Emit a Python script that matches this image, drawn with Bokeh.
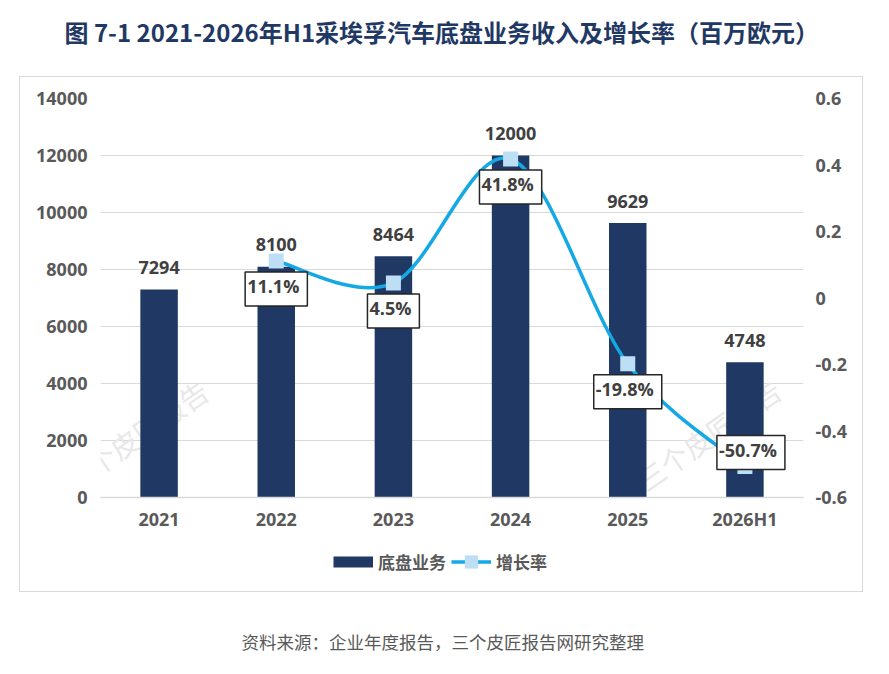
from bokeh.plotting import figure
from bokeh.layouts import column
from bokeh.models import (Range1d, LinearAxis, FixedTicker, Label, ColumnDataSource,
                          Legend, LegendItem)
from bokeh.core.properties import value
from bokeh.embed import file_html
from bokeh.resources import INLINE

# ---------------- data ----------------
categories = ["2021", "2022", "2023", "2024", "2025", "2026H1"]
revenue = [7294, 8100, 8464, 12000, 9629, 4748]
growth_years = ["2022", "2023", "2024", "2025", "2026H1"]
growth_pct = [11.1, 4.5, 41.8, -19.8, -50.7]
left_ticks = [0, 2000, 4000, 6000, 8000, 10000, 12000, 14000]
right_ticks = [-0.6, -0.4, -0.2, 0, 0.2, 0.4, 0.6]
right_tick_labels = ["-0.6", "-0.4", "-0.2", "0", "0.2", "0.4", "0.6"]
series_names = ["底盘业务", "增长率"]
title_text = "图  7-1 2021-2026年H1采埃孚汽车底盘业务收入及增长率（百万欧元）"
source_text = "资料来源：企业年度报告，三个皮匠报告网研究整理"
watermark_text = "三个皮匠报告"

# ---------------- styles ----------------
BAR = "#203864"
LINE = "#14A9E4"
MARK = "#BDDFF6"
GRID = "#D9D9D9"
AXIS_TXT = "#595959"
LBL_TXT = "#404040"
NUM_FONT = "Open Sans"
CJK_FONT = "Noto Sans CJK SC"

W = 885


def blank(width, height):
    f = figure(width=width, height=height, output_backend="svg", toolbar_location=None,
               title=None, x_range=Range1d(0, width), y_range=Range1d(height, 0), min_border=0)
    f.axis.visible = False
    f.grid.visible = False
    f.outline_line_color = None
    return f


title_fig = blank(W, 76)
title_fig.text(x=[64], y=[31], text=[title_text], text_align="left", text_baseline="middle",
               text_font=value(CJK_FONT), text_font_style="bold", text_font_size="24px",
               text_color="#1F3864")

source_fig = blank(W, 78)
source_fig.text(x=[241], y=[49], text=[source_text], text_align="left", text_baseline="middle",
                text_font=value(CJK_FONT), text_font_size="17.5px", text_color=AXIS_TXT)


def style_axis(ax, standoff):
    ax.major_tick_line_color = None
    ax.minor_tick_line_color = None
    ax.major_tick_out = 0
    ax.major_tick_in = 0
    ax.minor_tick_out = 0
    ax.minor_tick_in = 0
    ax.major_label_standoff = standoff
    ax.major_label_text_font = NUM_FONT
    ax.major_label_text_font_style = "bold"
    ax.major_label_text_font_size = "18px"
    ax.major_label_text_color = AXIS_TXT


# ---------------- main chart (inside the grey box) ----------------
PW, PH = 842, 470
p = figure(width=PW, height=PH, output_backend="svg", toolbar_location=None, title=None,
           x_range=Range1d(-0.5, len(categories) - 0.5),
           y_range=Range1d(left_ticks[0], left_ticks[-1]),
           min_border_left=80, min_border_right=59, min_border_top=21, min_border_bottom=50)
p.outline_line_color = None
p.xgrid.visible = False
p.ygrid.grid_line_color = GRID
p.ygrid.grid_line_width = 1
p.ygrid.ticker = FixedTicker(ticks=left_ticks)

idx = list(range(len(categories)))

ya = p.yaxis[0]
ya.ticker = FixedTicker(ticks=left_ticks)
ya.axis_line_color = None
style_axis(ya, 13)

xa = p.xaxis[0]
xa.ticker = FixedTicker(ticks=idx)
xa.major_label_overrides = {i: c for i, c in zip(idx, categories)}
xa.axis_line_color = GRID
xa.axis_line_width = 1.5
style_axis(xa, 9)

p.extra_y_ranges = {"rate": Range1d(right_ticks[0], right_ticks[-1])}
ra = LinearAxis(y_range_name="rate", ticker=FixedTicker(ticks=right_ticks),
                major_label_overrides={t: s for t, s in zip(right_ticks, right_tick_labels)})
ra.axis_line_color = None
style_axis(ra, 12)
p.add_layout(ra, "right")

# watermark (very faint)
for wx, wy in [(-0.2, 2170), (4.69, 2205)]:
    p.add_layout(Label(x=wx, y=wy, text=watermark_text, angle=35, angle_units="deg",
                       text_align="center", text_baseline="middle", text_font=CJK_FONT,
                       text_font_size="28px", text_color="#E8E8E8", level="underlay"))

# bars
bar_src = ColumnDataSource(dict(x=idx, top=revenue))
bars = p.vbar(x="x", top="top", width=0.32, source=bar_src, fill_color=BAR, line_color=None)
for xi, v in zip(idx, revenue):
    p.add_layout(Label(x=xi, y=v, text=str(v), y_offset=22, text_align="center",
                       text_baseline="middle", text_font=NUM_FONT, text_font_style="bold",
                       text_font_size="18px", text_color=LBL_TXT))

# smoothed growth line (Catmull-Rom -> cubic Bezier, built from the data points)
gx = [categories.index(c) for c in growth_years]
gy = [v / 100.0 for v in growth_pct]
pts = list(zip(gx, gy))
n = len(pts)
seg = dict(x0=[], y0=[], x1=[], y1=[], cx0=[], cy0=[], cx1=[], cy1=[])
for i in range(n - 1):
    pa = pts[i - 1] if i > 0 else pts[i]
    pb = pts[i]
    pc = pts[i + 1]
    pd = pts[i + 2] if i + 2 < n else pts[i + 1]
    seg["x0"].append(pb[0]); seg["y0"].append(pb[1])
    seg["x1"].append(pc[0]); seg["y1"].append(pc[1])
    seg["cx0"].append(pb[0] + (pc[0] - pa[0]) / 6.0)
    seg["cy0"].append(pb[1] + (pc[1] - pa[1]) / 6.0)
    seg["cx1"].append(pc[0] - (pd[0] - pb[0]) / 6.0)
    seg["cy1"].append(pc[1] - (pd[1] - pb[1]) / 6.0)
curve = p.bezier(x0="x0", y0="y0", x1="x1", y1="y1", cx0="cx0", cy0="cy0", cx1="cx1", cy1="cy1",
                 source=ColumnDataSource(seg), line_color=LINE, line_width=3.5, y_range_name="rate")
marks = p.scatter(x=gx, y=gy, marker="square", size=15, fill_color=MARK, line_color=None,
                  y_range_name="rate")

for k, (xi, yv, pv) in enumerate(zip(gx, gy, growth_pct)):
    last = (k == n - 1)
    p.add_layout(Label(x=xi, y=yv, y_range_name="rate", text=f"{pv:.1f}%",
                       x_offset=6 if last else 0, y_offset=14 if last else -28,
                       text_align="center", text_baseline="middle",
                       text_font=NUM_FONT, text_font_style="bold", text_font_size="18px",
                       text_color=LBL_TXT, background_fill_color="white",
                       border_line_color="#262626", border_line_width=1.5,
                       padding=(2, 8, 2, 8)))

# ---------------- legend strip (swatches styled like the series) ----------------
LH = 514 - PH
lf = figure(width=PW, height=LH, output_backend="svg", toolbar_location=None,
            title=None, x_range=Range1d(0, 1), y_range=Range1d(0, 1), min_border=0)
lf.axis.visible = False
lf.grid.visible = False
lf.outline_line_color = None
off = [-5, -4]  # swatch renderers hold a point outside the visible range
sw_bar = lf.line(x=off, y=off, line_color=BAR, line_width=11)
sw_line = lf.line(x=off, y=off, line_color=LINE, line_width=3.5)
sw_mark = lf.scatter(x=off, y=off, marker="square", size=15, fill_color=MARK, line_color=None)
leg = Legend(items=[LegendItem(label=series_names[0], renderers=[sw_bar]),
                    LegendItem(label=series_names[1], renderers=[sw_line, sw_mark])],
             location=(233, 13), orientation="horizontal", glyph_width=40, glyph_height=33,
             label_standoff=5, padding=0, margin=0, spacing=5,
             label_text_font=CJK_FONT, label_text_font_style="bold",
             label_text_font_size="17px", label_text_color=AXIS_TXT,
             background_fill_alpha=0, border_line_alpha=0)
lf.add_layout(leg)

box = column(p, lf, spacing=0, margin=(0, 0, 0, 19),
             styles={"border": "1px solid #D9D9D9"})
layout = column(title_fig, box, source_fig, spacing=0)
open("out.html", "w").write(file_html(layout, INLINE))
